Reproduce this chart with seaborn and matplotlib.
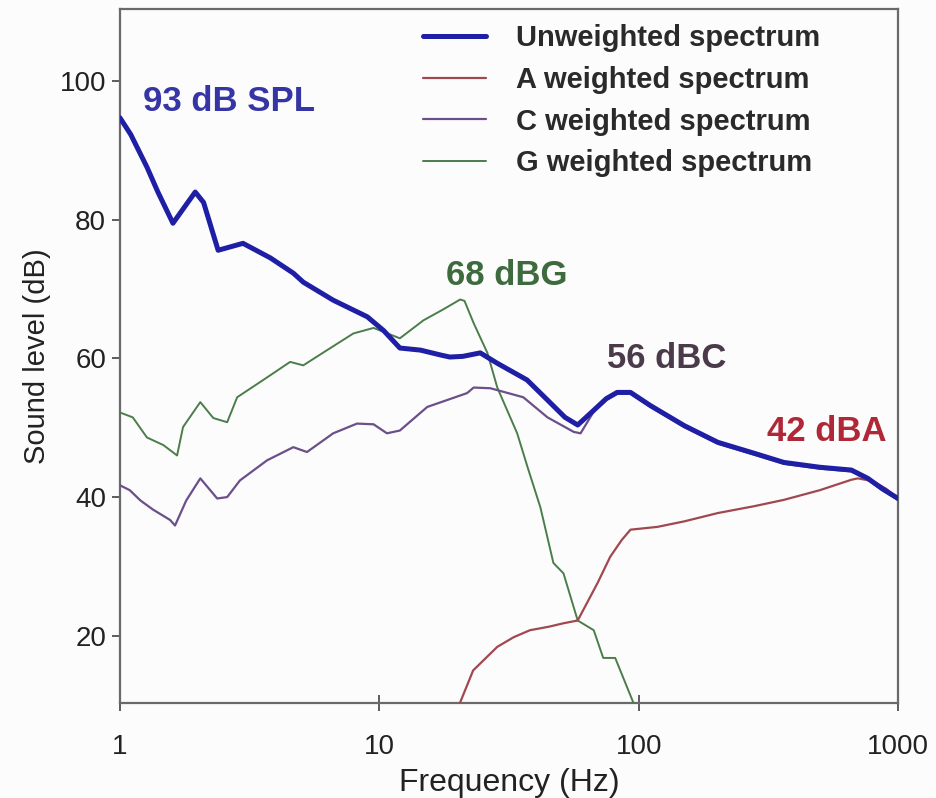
import numpy as np
import pandas as pd
import matplotlib
matplotlib.use("Agg")
import matplotlib.pyplot as plt
import seaborn as sns

# ---- data ----
unw_f = [1.0, 1.1, 1.27, 1.4, 1.6, 1.95, 2.1, 2.39, 2.98, 3.8, 4.66, 5.09, 6.64, 8.99,
         10.4, 12.0, 14.4, 17.2, 18.7, 21, 24.5, 28.5, 37.1, 44.5, 52, 58.2, 67, 75,
         82.6, 93, 111, 150, 202, 280, 363, 500, 661, 765, 870, 1000]
unw_db = [94.7, 92.3, 87.6, 84.0, 79.5, 84.0, 82.5, 75.6, 76.6, 74.5, 72.3, 71.0, 68.4, 66.0,
          64.0, 61.5, 61.2, 60.5, 60.2, 60.3, 60.8, 59.3, 56.9, 54.0, 51.5, 50.4, 52.5, 54.2,
          55.1, 55.1, 53.2, 50.3, 47.9, 46.3, 45.0, 44.3, 43.9, 42.7, 41.2, 39.8]

a_f = [20.3, 23.0, 28.5, 33, 38.1, 45, 51.3, 58.2, 69.4, 77.7, 86, 93, 118, 150, 202,
       280, 363, 500, 661, 700, 800, 900, 1000]
a_db = [10.0, 15.0, 18.4, 19.8, 20.8, 21.3, 21.8, 22.2, 27.6, 31.4, 33.8, 35.3, 35.7, 36.5, 37.7,
        38.7, 39.6, 41.0, 42.5, 42.7, 42.3, 41.2, 39.8]

c_f = [1.0, 1.09, 1.2, 1.34, 1.56, 1.63, 1.8, 2.04, 2.37, 2.59, 2.9, 3.69, 4.66, 5.26, 6.64,
       8.2, 9.5, 10.7, 12.0, 15.3, 21.8, 23.1, 26.8, 35.9, 44.5, 56.2, 59.7, 67, 75, 82.6, 93,
       111, 150, 202, 280, 363, 500, 661, 765, 870, 1000]
c_db = [41.7, 41.0, 39.5, 38.2, 36.7, 35.9, 39.5, 42.7, 39.8, 40.0, 42.4, 45.3, 47.2, 46.5, 49.2,
        50.6, 50.5, 49.2, 49.6, 53.0, 55.0, 55.8, 55.7, 54.4, 51.5, 49.4, 49.2, 52.3, 54.0, 54.9, 54.9,
        53.0, 50.1, 47.7, 46.1, 44.8, 44.1, 43.7, 42.5, 41.0, 39.6]

g_f = [1.0, 1.12, 1.27, 1.47, 1.66, 1.75, 2.04, 2.29, 2.59, 2.83, 3.57, 4.53, 5.09, 6.29, 7.94,
       9.5, 12.0, 14.8, 17.5, 20.5, 21.3, 23.1, 26.1, 28.5, 34.0, 37.3, 41.8, 46.9, 51.3, 58.2,
       67.1, 73.0, 81.2, 95.5, 100]
g_db = [52.2, 51.5, 48.6, 47.5, 46.0, 50.1, 53.7, 51.4, 50.8, 54.4, 56.9, 59.5, 59.0, 61.2, 63.6,
        64.4, 62.9, 65.5, 67.0, 68.5, 68.3, 65.1, 60.8, 55.8, 49.2, 44.3, 38.5, 30.5, 29.0, 22.2,
        20.8, 16.8, 16.8, 10.3, 9.0]

series_names = ["Unweighted spectrum", "A weighted spectrum", "C weighted spectrum", "G weighted spectrum"]
series_colors = ["#1f1fa6", "#a0484f", "#6b4f8a", "#4b7d4b"]
series_widths = [3.6, 1.6, 1.6, 1.4]

x_ticks = [1, 10, 100, 1000]
x_ticklabels = ["1", "10", "100", "1000"]
y_ticks = [20, 40, 60, 80, 100]

annotations = [("93 dB SPL", 1.227, 97.1, "#3535a5", "left"),
               ("68 dBG", 30.9, 72.0, "#3d6b3d", "center"),
               ("56 dBC", 128, 60.0, "#4a3a4a", "center"),
               ("42 dBA", 532, 49.4, "#b02838", "center")]

# ---- plot ----
sns.set_theme(style="white")
plt.rcParams["font.family"] = ["Liberation Sans", "DejaVu Sans"]

fig = plt.figure(figsize=(9.36, 7.98), dpi=100)
ax = fig.add_axes([120 / 936, 1 - 703 / 798, 778 / 936, 694 / 798])

frames = [pd.DataFrame({"f": f, "db": d}) for f, d in
          [(unw_f, unw_db), (a_f, a_db), (c_f, c_db), (g_f, g_db)]]
order = [3, 2, 1, 0]
for i in order:
    sns.lineplot(data=frames[i], x="f", y="db", ax=ax, color=series_colors[i],
                 linewidth=series_widths[i], label=series_names[i], sort=False,
                 estimator=None, zorder=3 + (i == 0))

ax.set_xscale("log")
ax.set_xlim(1, 1000)
ax.set_ylim(10.3, 110.4)
ax.set_xticks(x_ticks)
ax.set_xticklabels(x_ticklabels)
ax.minorticks_off()
ax.set_yticks(y_ticks)
ax.tick_params(axis="y", direction="out", length=6, width=1.3, colors="#505050",
               labelcolor="#222222", labelsize=20, pad=4, left=True)
ax.tick_params(axis="x", direction="inout", length=12, width=1.3, colors="#505050",
               labelcolor="#222222", labelsize=20, pad=16, bottom=True)
for s in ax.spines.values():
    s.set_color("#6a6a6a")
    s.set_linewidth(1.6)

ax.set_xlabel("Frequency (Hz)", fontsize=23, color="#222222", labelpad=6)
ax.set_ylabel("Sound level (dB)", fontsize=21, color="#222222", labelpad=6)

for txt, x, y, col, ha in annotations:
    ax.text(x, y, txt, color=col, fontsize=25, fontweight="bold", ha=ha, va="center")

h, l = ax.get_legend_handles_labels()
hmap = dict(zip(l, h))
leg = ax.legend([hmap[n] for n in series_names], series_names, loc="upper left",
                bbox_to_anchor=(0.356, 1.016), frameon=False,
                handlelength=2.16, handletextpad=1.03, labelspacing=0.47,
                prop={"weight": "bold", "size": 21})
for t in leg.get_texts():
    t.set_color("#2a2a2a")

fig.patch.set_facecolor("#fcfcfc")
ax.set_facecolor("#fcfcfc")
fig.savefig("out.png", dpi=100, facecolor=fig.get_facecolor())
